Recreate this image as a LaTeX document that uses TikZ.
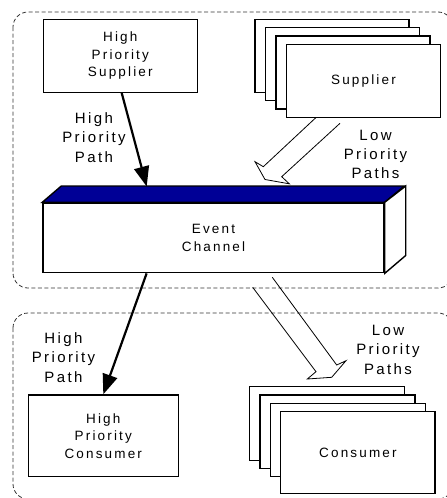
\documentclass[tikz,border=0pt]{standalone}
\usepackage{fontspec}
\setmainfont{Liberation Sans}[LetterSpace=16]
\usetikzlibrary{arrows.meta,calc}
\newcommand\bxfont{\fontsize{13.5}{17.5}\selectfont}
\newcommand\lbfont{\fontsize{15}{19.3}\selectfont}
\definecolor{chantop}{RGB}{0,0,150}
\begin{document}
\begin{tikzpicture}[x=1pt,y=-1pt,
  box/.style={draw, line width=1.3pt, fill=white, inner sep=0pt, align=center,
    font=\bxfont, minimum width=154pt, minimum height=73pt},
  lbl/.style={align=center, font=\lbfont, inner sep=0pt},
  region/.style={draw=black!80, line width=0.8pt, dash pattern=on 4pt off 2.5pt,
    rounded corners=15pt},
  hp/.style={line width=2.2pt, -{Triangle[length=20pt,width=15pt]}},
  lp/.style={line width=0.8pt, line join=miter},
  chan/.style={draw, line width=1.4pt, line join=miter}]
\useasboundingbox (0,0) rectangle (447,498);
\clip (0,0) rectangle (447,498);

% supplier side and consumer side regions
\draw[region] (13,12) rectangle (453,288);
\draw[region] (13,313) rectangle (453,499);

% high priority supplier
\node[box] (hps) at (120.3,55.8) {High\\Priority\\Supplier};

% stack of ordinary suppliers
\node[box] (sup1) at (332.0,55.8) {};
\node[box] (sup2) at (342.5,64.1) {};
\node[box] (sup3) at (353.0,72.4) {};
\node[box] (sup4) at (363.5,80.7) {Supplier};

% event channel drawn as a box in perspective
\node[box, minimum width=341pt, minimum height=69.7pt, line width=1.4pt]
  (ch) at (213.5,237.85) {Event\\Channel};
\filldraw[chan, fill=chantop] (ch.north west) -- ++(19,-16.3) -- ++(343,0)
  -- (ch.north east) -- cycle;
\filldraw[chan, fill=white] (ch.north east) -- ++(21,-16.3) -- ++(0,69.5)
  -- (ch.south east) -- cycle;

% high priority consumer
\node[box, minimum width=150pt, minimum height=81.7pt] (hpc) at (103.3,435.8)
  {High\\Priority\\Consumer};

% stack of ordinary consumers
\node[box, minimum width=155pt, minimum height=73.6pt] (con1) at (326.9,423.5) {};
\node[box, minimum width=155pt, minimum height=73.4pt] (con2) at (337.5,431.7) {};
\node[box, minimum width=154.5pt, minimum height=73.4pt] (con3) at (347.9,440.0) {};
\node[box, minimum width=154.3pt, minimum height=81.6pt] (con4) at (357.9,452.5) {Consumer};

% high priority paths
\coordinate (hpIn) at (146.7,186.5);
\draw[hp] ($(hps.south)+(1.4,0)$) -- (hpIn);
\draw[hp] ($(ch.south west)+(104.3,0)$) -- (hpc.north);

% low priority paths as hollow block arrows
\coordinate (lpA1) at (316,117.5);
\coordinate (lpA7) at (340,123.3);
\draw[lp] (lpA1) -- (263.3,166.7) -- (255,161.7) -- (265,179.5)
  -- (289.3,183.8) -- (281.7,176.7) -- (lpA7);
\coordinate (lpB1) at (252.7,287.3);
\coordinate (lpB7) at (272.3,277.3);
\draw[lp] (lpB1) -- (316,371.7) -- (307.3,379) -- (331.7,377.3)
  -- (346,360.7) -- (336.7,365) -- (lpB7);

% path labels
\node[lbl] (lhpA) at (94,137.5) {High\\Priority\\Path};
\node[lbl] (llpA) at (375.5,154.5) {Low\\Priority\\Paths};
\node[lbl] (lhpB) at (63.5,357.5) {High\\Priority\\Path};
\node[lbl] (llpB) at (388,349.8) {Low\\Priority\\Paths};
\end{tikzpicture}
\end{document}
